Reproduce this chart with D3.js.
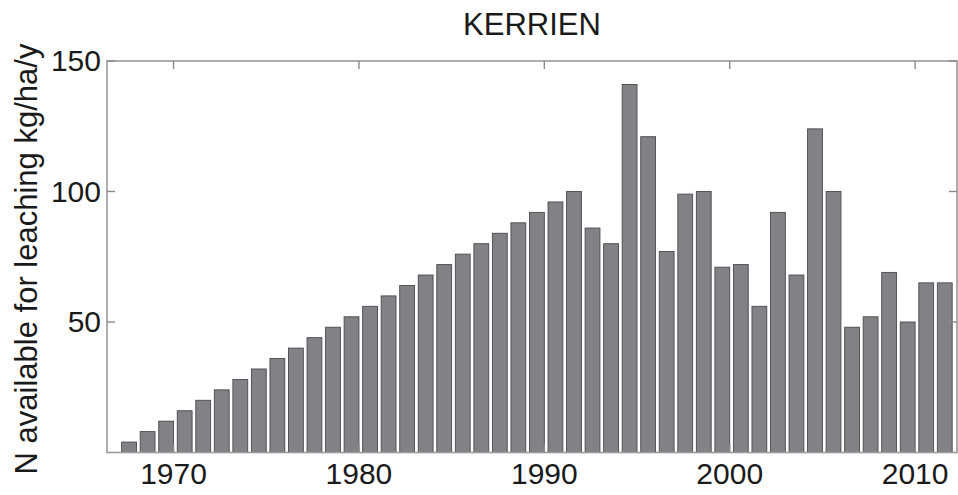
<!DOCTYPE html>
<html>
<head>
<meta charset="utf-8">
<script src="https://cdn.jsdelivr.net/npm/d3@7"></script>
<style>
  body { margin: 0; background: #fff; }
  text { font-family: "Liberation Sans", Arial, sans-serif; fill: #1a1a1a; }
</style>
</head>
<body>
<script>
// yearly values, N available for leaching (kg/ha/y)
var years = d3.range(1967, 2012);
var values = [
    4, 8, 12, 16, 20, 24, 28, 32, 36, 40,
    44, 48, 52, 56, 60, 64, 68, 72, 76, 80,
    84, 88, 92, 96, 100, 86, 80, 141, 121, 77,
    99, 100, 71, 72, 56, 92, 68, 124, 100, 48,
    52, 69, 50, 65, 65
];
var xTicks = [1970, 1980, 1990, 2000, 2010];
var yTicks = [50, 100, 150];
var title = 'KERRIEN';
var yLabel = 'N available for leaching kg/ha/y';

var width = 958, height = 495;
var margin = { left: 107, right: 1, top: 61, bottom: 42.5 };
var barOffset = 0.6; // bars sit slightly right of the year tick
var barWidth = 0.8;

var svg = d3.select('body').append('svg')
    .attr('width', width)
    .attr('height', height);

var x = d3.scaleLinear()
    .domain([1966.41, 2012.26])
    .range([margin.left, width - margin.right]);
var y = d3.scaleLinear()
    .domain([0, 150])
    .range([height - margin.bottom, margin.top]);

var data = years.map((yr, i) => ({ year: yr, value: values[i] }));

// bars
svg.append('g').selectAll('rect').data(data).enter()
    .append('rect')
    .attr('x', d => x(d.year + barOffset - barWidth / 2))
    .attr('width', d => x(d.year + barWidth) - x(d.year))
    .attr('y', d => y(d.value))
    .attr('height', d => y(0) - y(d.value))
    .attr('fill', '#818186')
    .attr('stroke', '#4a4a4e')
    .attr('stroke-width', 0.9);

// box
var x0 = x.range()[0], x1 = x.range()[1];
var y0 = y.range()[0], y1 = y.range()[1];
svg.append('rect')
    .attr('x', x0).attr('y', y1)
    .attr('width', x1 - x0).attr('height', y0 - y1)
    .attr('fill', 'none')
    .attr('stroke', '#9a9a9a')
    .attr('stroke-width', 1.6);

var tickLen = 8;
var ticks = svg.append('g').attr('stroke', '#8a8a8a').attr('stroke-width', 1.4);
xTicks.forEach(t => {
    ticks.append('line').attr('x1', x(t)).attr('x2', x(t)).attr('y1', y0).attr('y2', y0 - tickLen);
    ticks.append('line').attr('x1', x(t)).attr('x2', x(t)).attr('y1', y1).attr('y2', y1 + tickLen);
});
yTicks.forEach(t => {
    ticks.append('line').attr('x1', x0).attr('x2', x0 + tickLen).attr('y1', y(t)).attr('y2', y(t));
    ticks.append('line').attr('x1', x1).attr('x2', x1 - tickLen).attr('y1', y(t)).attr('y2', y(t));
});

// tick labels
svg.append('g').selectAll('text').data(xTicks).enter()
    .append('text')
    .attr('x', d => x(d))
    .attr('y', y0 + 31)
    .attr('text-anchor', 'middle')
    .attr('font-size', 30)
    .text(d => d);

svg.append('g').selectAll('text').data(yTicks).enter()
    .append('text')
    .attr('x', x0 - 6)
    .attr('y', d => y(d) + 10)
    .attr('text-anchor', 'end')
    .attr('font-size', 30)
    .text(d => d);

// title
svg.append('text')
    .attr('x', (x0 + x1) / 2)
    .attr('y', 35)
    .attr('text-anchor', 'middle')
    .attr('font-size', 31)
    .text(title);

// y label
svg.append('text')
    .attr('transform', 'translate(37,' + 259 + ') rotate(-90)')
    .attr('text-anchor', 'middle')
    .attr('font-size', 31)
    .text(yLabel);
</script>
</body>
</html>
